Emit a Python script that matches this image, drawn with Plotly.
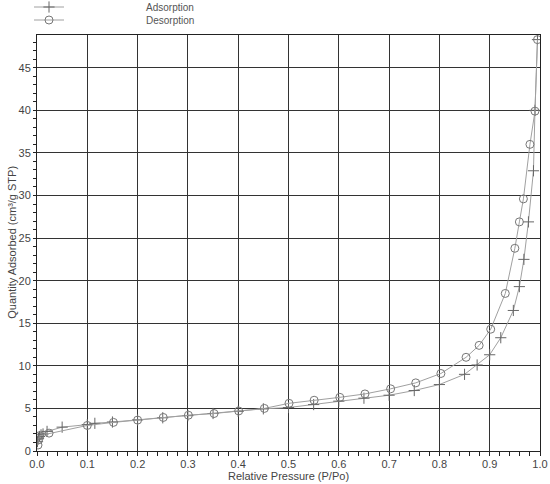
import plotly.graph_objects as go

ads_x = [0.001, 0.003, 0.005, 0.008, 0.012, 0.02, 0.05, 0.1, 0.115, 0.15, 0.2, 0.25, 0.3, 0.35, 0.4, 0.45,
         0.5, 0.55, 0.6, 0.65, 0.7, 0.75, 0.8, 0.85, 0.875, 0.9, 0.922, 0.947, 0.959, 0.968, 0.977, 0.987, 0.99, 0.995]
ads_y = [1.1, 1.5, 1.7, 1.9, 2.0, 2.3, 2.8, 3.1, 3.25, 3.4, 3.65, 3.9, 4.15, 4.4, 4.65, 4.95,
         5.1, 5.45, 5.85, 6.2, 6.55, 7.1, 7.8, 9.0, 10.1, 11.3, 13.3, 16.5, 19.3, 22.5, 26.9, 32.9, 40.0, 48.3]

des_x = [0.995, 0.99, 0.98, 0.967, 0.959, 0.95, 0.931, 0.902, 0.879, 0.853, 0.803, 0.753, 0.703, 0.652,
         0.602, 0.551, 0.501, 0.452, 0.401, 0.352, 0.301, 0.251, 0.2, 0.152, 0.1, 0.024, 0.005, 0.003, 0.002]
des_y = [48.3, 39.9, 36.0, 29.6, 26.9, 23.8, 18.5, 14.3, 12.4, 11.0, 9.1, 8.0, 7.3, 6.7,
         6.3, 5.96, 5.6, 5.0, 4.7, 4.4, 4.2, 3.94, 3.63, 3.36, 3.0, 2.1, 1.8, 1.3, 0.7]

x_ticks = [0.0, 0.1, 0.2, 0.3, 0.4, 0.5, 0.6, 0.7, 0.8, 0.9, 1.0]
y_ticks = [0, 5, 10, 15, 20, 25, 30, 35, 40, 45]

x_title = "Relative Pressure (P/Po)"
y_title = "Quantity Adsorbed (cm\u00b3/g STP)"

GRAY = "#8a8a8a"
FONT = "Liberation Sans, Arial, sans-serif"
PAD = "\u2003" * 7 + "\u2002\u2009"

fig = go.Figure()
fig.add_trace(go.Scatter(
    x=ads_x, y=ads_y, mode="lines+markers",
    name=PAD + "Adsorption", legend="legend",
    line=dict(color="#a0a0a0", width=1),
    marker=dict(symbol="cross-thin", size=8, color=GRAY, line=dict(color="#666666", width=1)),
))
fig.add_trace(go.Scatter(
    x=des_x, y=des_y, mode="lines+markers",
    name=PAD + "Desorption", legend="legend2",
    line=dict(color="#a0a0a0", width=1),
    marker=dict(symbol="circle-open", size=8, color="#777777", line=dict(width=1)),
))

axis_common = dict(
    showline=True, linecolor="#222222", linewidth=1, mirror=True,
    showgrid=True, gridcolor="#333333", gridwidth=1,
    ticks="outside", tickcolor="#222222",
    tickfont=dict(family=FONT, size=11, color="#444444"),
    zeroline=False, automargin=False,
)

fig.update_xaxes(
    range=[0, 1.0], tickvals=x_ticks, tickformat=".1f", ticklen=3,
    minor=dict(dtick=0.02, ticks="outside", ticklen=4, tickcolor="#222222", showgrid=False),
    **axis_common,
)
fig.update_yaxes(
    range=[0, 48.9], tickvals=y_ticks, ticklen=3,
    minor=dict(dtick=1, ticks="outside", ticklen=3, tickcolor="#222222", showgrid=False),
    **axis_common,
)

title_font = dict(family=FONT, size=11, color="#444444")
fig.add_annotation(text=x_title, xref="paper", yref="paper", x=0.5, y=-26 / 426,
                   xanchor="center", yanchor="middle", showarrow=False, font=title_font)
fig.add_annotation(text=y_title, xref="paper", yref="paper", x=-25 / 503, y=0.5,
                   xanchor="center", yanchor="middle", textangle=-90, showarrow=False, font=title_font)

leg_common = dict(xref="paper", yref="container", xanchor="left", yanchor="middle",
                  font=dict(family=FONT, size=10, color="#555555"),
                  bgcolor="rgba(0,0,0,0)", itemwidth=30)

fig.update_layout(
    width=550, height=484,
    margin=dict(l=37, r=10, t=25, b=33),
    paper_bgcolor="white", plot_bgcolor="white",
    font=dict(family=FONT, size=11, color="#444444"),
    showlegend=True,
    legend=dict(x=-8 / 503, y=1 - 7 / 484, **leg_common),
    legend2=dict(x=-8 / 503, y=1 - 20 / 484, **leg_common),
)

fig.write_html("out.html", config={"displayModeBar": False},
               post_script="document.body.style.margin='0';")
